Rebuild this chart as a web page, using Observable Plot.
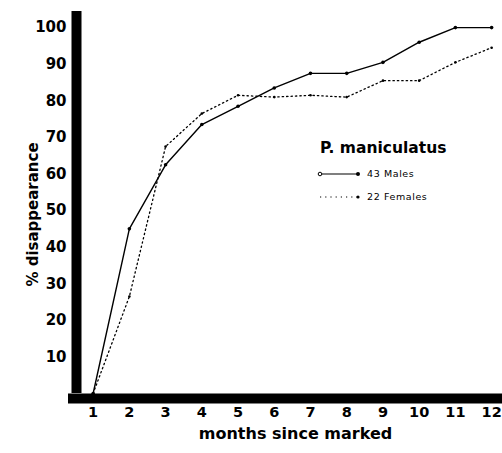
<!DOCTYPE html>
<html><head><meta charset="utf-8">
<script src="https://cdn.jsdelivr.net/npm/d3@7"></script>
<script src="https://cdn.jsdelivr.net/npm/@observablehq/plot@0.6"></script>
<style>
body{margin:0;background:#fff;}
#wrap{position:relative;width:502px;height:453px;}
#legend{position:absolute;left:0;top:0;pointer-events:none;}
</style></head><body><div id="wrap"></div>
<script>
const months = [1,2,3,4,5,6,7,8,9,10,11,12];
const malesPct = [0,45,62.5,73.5,78.5,83.5,87.5,87.5,90.5,96,100,100];
const femalesPct = [0,26.5,67.5,76.5,81.5,81,81.5,81,85.5,85.5,90.5,94.5];
const xTicks = [1,2,3,4,5,6,7,8,9,10,11,12];
const yTicks = [10,20,30,40,50,60,70,80,90,100];
const seriesLabels = ["43 Males","22 Females"];
const legendTitle = "P. maniculatus";
const xTitle = "months since marked";
const yTitle = "% disappearance";

const males = months.map((m,i)=>({month:m, pct:malesPct[i]}));
const females = months.map((m,i)=>({month:m, pct:femalesPct[i]}));
const xDomain = [0.32, 12.3];
const yDomain = [0, 104.4];
const font = "DejaVu Sans";

const chart = Plot.plot({
  width:502, height:453, marginLeft:68, marginRight:0, marginTop:11, marginBottom:60,
  style:{fontFamily:font, background:"#fff", color:"#000"},
  x:{domain:xDomain},
  y:{domain:yDomain},
  marks:[
    Plot.axisY(yTicks,{tickSize:0, tickPadding:2, fontSize:15, fontWeight:"bold", label:null}),
    Plot.axisX(xTicks,{tickSize:0, tickPadding:13, fontSize:14.5, fontWeight:"bold", label:null}),
    Plot.line(females,{x:"month", y:"pct", stroke:"#000", strokeWidth:1.3, strokeDasharray:"1.4,3"}),
    Plot.dot(females,{x:"month", y:"pct", r:1.3, fill:"#000"}),
    Plot.line(males,{x:"month", y:"pct", stroke:"#000", strokeWidth:1.4}),
    Plot.dot(males,{x:"month", y:"pct", r:1.8, fill:"#000"}),
    Plot.ruleY([yDomain[0]],{stroke:"#000", strokeWidth:10, dy:5}),
    Plot.ruleX([xDomain[0]],{stroke:"#000", strokeWidth:10, dx:8}),
    Plot.text([xTitle],{frameAnchor:"bottom", dy:45, dx:10, fontSize:16, fontWeight:"bold", fill:"#000", style:"letter-spacing:0.6px"}),
    Plot.text([yTitle],{frameAnchor:"left", textAnchor:"middle", rotate:-90, dx:-35, dy:12, fontSize:15, fontWeight:"bold", fill:"#000"})
  ]
});
const wrap = document.getElementById("wrap");
wrap.appendChild(chart);

const svg = d3.select(wrap).append("svg").attr("id","legend").attr("width",502).attr("height",453)
  .attr("font-family", font);
svg.append("text").attr("x",320).attr("y",153).attr("font-size",15.5).attr("font-weight","bold").text(legendTitle);
const keyY = [174, 197];
svg.append("line").attr("x1",320).attr("x2",358).attr("y1",keyY[0]).attr("y2",keyY[0]).attr("stroke","#000").attr("stroke-width",1.2);
svg.append("circle").attr("cx",320).attr("cy",keyY[0]).attr("r",1.8).attr("fill","#fff").attr("stroke","#000").attr("stroke-width",1);
svg.append("circle").attr("cx",358).attr("cy",keyY[0]).attr("r",2).attr("fill","#000");
svg.append("line").attr("x1",320).attr("x2",358).attr("y1",keyY[1]).attr("y2",keyY[1]).attr("stroke","#000").attr("stroke-width",1.2).attr("stroke-dasharray","1.2,4");
svg.append("circle").attr("cx",358).attr("cy",keyY[1]).attr("r",1.6).attr("fill","#000");
seriesLabels.forEach((s,i)=>{
  svg.append("text").attr("x",367).attr("y",keyY[i]+3).attr("font-size",9.5).attr("letter-spacing","0.6").text(s);
});
</script></body></html>
